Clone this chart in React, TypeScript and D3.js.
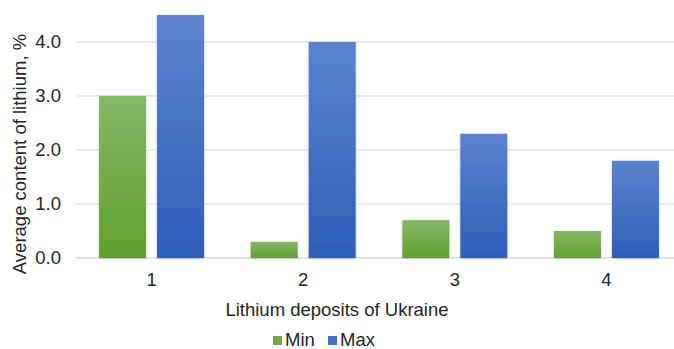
import React from "react";
import * as d3 from "d3";

// Lithium content per deposit
const deposits = ["1", "2", "3", "4"];
const seriesNames = ["Min", "Max"];
const minValues = [3.0, 0.3, 0.7, 0.5];
const maxValues = [4.5, 4.0, 2.3, 1.8];
const yTicks = [0, 1, 2, 3, 4];

const W = 674;
const H = 349;
const FONT = "'Liberation Sans', Arial, sans-serif";
const FS = 18.5;

export default function App() {
  const plotLeft = 75.7;
  const plotRight = 682.3;
  const y = d3.scaleLinear().domain([0, 4.5]).range([258, 15]);
  const x0 = d3.scaleBand<string>().domain(deposits).range([plotLeft, plotRight]).padding(0);
  const x1 = d3
    .scaleBand<string>()
    .domain(seriesNames)
    .range([0, x0.bandwidth()])
    .paddingInner(0.19)
    .paddingOuter(0.4025);

  const rows = deposits.map((d, i) => ({ d, Min: minValues[i], Max: maxValues[i] }));
  const fills: Record<string, string> = { Min: "url(#gMin)", Max: "url(#gMax)" };

  return (
    <svg
      width={W}
      height={H}
      style={{ position: "absolute", left: 0, top: 0, background: "#fff" }}
      fontFamily={FONT}
    >
      <defs>
        <linearGradient id="gMin" x1="0" y1="0" x2="0" y2="1">
          <stop offset="0" stopColor="#84b966" />
          <stop offset="1" stopColor="#61a030" />
        </linearGradient>
        <linearGradient id="gMax" x1="0" y1="0" x2="0" y2="1">
          <stop offset="0" stopColor="#5c83ce" />
          <stop offset="1" stopColor="#2d5fb8" />
        </linearGradient>
        <filter id="shadow" x="-20%" y="-20%" width="140%" height="140%">
          <feDropShadow dx="0" dy="0.5" stdDeviation="1" floodColor="#000" floodOpacity="0.25" />
        </filter>
      </defs>

      {/* gridlines */}
      {yTicks.map((t) => (
        <line
          key={t}
          x1={plotLeft}
          x2={W}
          y1={y(t)}
          y2={y(t)}
          stroke={t === 0 ? "#c8c8c8" : "#d9d9d9"}
          strokeWidth={1}
        />
      ))}

      {/* y tick labels */}
      {yTicks.map((t) => (
        <text
          key={t}
          x={61}
          y={y(t)}
          dy="0.35em"
          textAnchor="end"
          fontSize={FS}
          fill="#262626"
        >
          {t.toFixed(1)}
        </text>
      ))}

      {/* bars */}
      {rows.map((r) => (
        <g key={r.d} transform={`translate(${x0(r.d)},0)`}>
          {seriesNames.map((s) => {
            const v = (r as any)[s] as number;
            return (
              <rect
                key={s}
                x={x1(s)}
                y={y(v)}
                width={x1.bandwidth()}
                height={y(0) - y(v)}
                fill={fills[s]}
                filter="url(#shadow)"
              />
            );
          })}
        </g>
      ))}

      {/* x tick labels */}
      {deposits.map((d) => (
        <text
          key={d}
          x={(x0(d) as number) + x0.bandwidth() / 2}
          y={280}
          dy="0.35em"
          textAnchor="middle"
          fontSize={FS}
          fill="#262626"
        >
          {d}
        </text>
      ))}

      {/* axis titles */}
      <text x={337} y={310} dy="0.35em" textAnchor="middle" fontSize={FS} fill="#262626">
        Lithium deposits of Ukraine
      </text>
      <text
        transform={`translate(20,154) rotate(-90)`}
        dy="0.35em"
        textAnchor="middle"
        fontSize={FS}
        fill="#262626"
      >
        Average content of lithium, %
      </text>

      {/* legend */}
      <g transform="translate(273,340)">
        <rect x={0} y={-4} width={9} height={9} fill="#6aaa3e" />
        <text x={12} y={0} dy="0.35em" fontSize={FS} fill="#262626">Min</text>
        <rect x={55} y={-4} width={9} height={9} fill="#4472c4" />
        <text x={67} y={0} dy="0.35em" fontSize={FS} fill="#262626">Max</text>
      </g>
    </svg>
  );
}
